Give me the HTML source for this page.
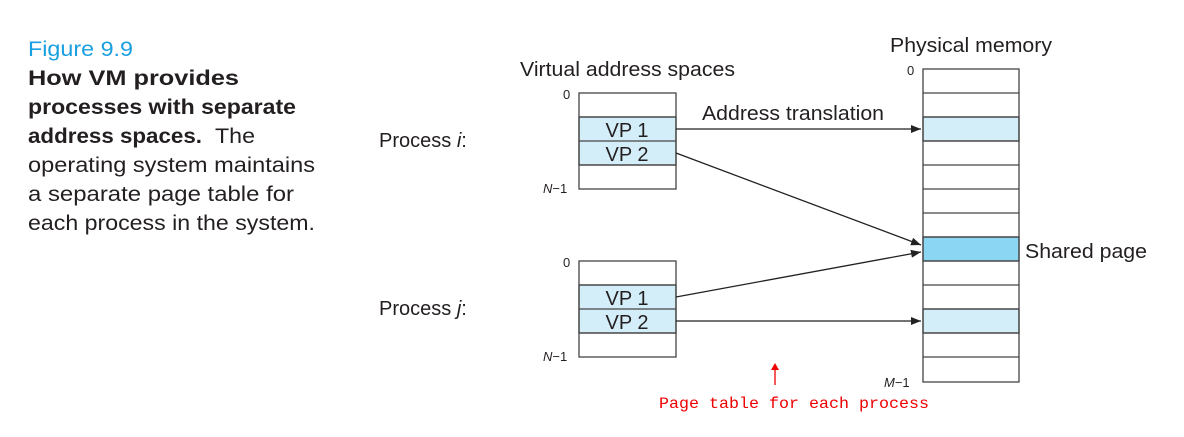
<!DOCTYPE html>
<html><head><meta charset="utf-8"><style>
html,body{margin:0;padding:0;background:#fff}
svg{display:block}
</style></head><body>
<svg width="1184" height="437" viewBox="0 0 1184 437" xmlns="http://www.w3.org/2000/svg" font-family="Liberation Sans, sans-serif">
<defs><marker id="a" markerWidth="10" markerHeight="8" refX="10" refY="4" orient="auto" markerUnits="userSpaceOnUse"><path d="M0,0 L10,4 L0,8 z" fill="#222"/></marker></defs>
<g font-size="21" fill="#231f20">
<text x="28" y="56" fill="#1a9fe0" textLength="105" lengthAdjust="spacingAndGlyphs">Figure 9.9</text>
<text x="28" y="85" font-weight="bold" textLength="211" lengthAdjust="spacingAndGlyphs">How VM provides</text>
<text x="28" y="114" font-weight="bold" textLength="268" lengthAdjust="spacingAndGlyphs">processes with separate</text>
<text x="28" y="143" font-weight="bold" textLength="174" lengthAdjust="spacingAndGlyphs">address spaces.</text>
<text x="215" y="143" textLength="40" lengthAdjust="spacingAndGlyphs">The</text>
<text x="28" y="172" textLength="287" lengthAdjust="spacingAndGlyphs">operating system maintains</text>
<text x="28" y="201" textLength="266" lengthAdjust="spacingAndGlyphs">a separate page table for</text>
<text x="28" y="230" textLength="287" lengthAdjust="spacingAndGlyphs">each process in the system.</text>
</g>
<g font-size="20" fill="#231f20">
<text x="520" y="76" textLength="215" lengthAdjust="spacingAndGlyphs">Virtual address spaces</text>
<text x="890" y="52" textLength="162" lengthAdjust="spacingAndGlyphs">Physical memory</text>
<text x="379" y="147">Process <tspan font-style="italic">i</tspan>:</text>
<text x="379" y="315">Process <tspan font-style="italic">j</tspan>:</text>
<text x="702" y="120" textLength="182" lengthAdjust="spacingAndGlyphs">Address translation</text>
<text x="1025" y="258" textLength="122" lengthAdjust="spacingAndGlyphs">Shared page</text>
</g>
<g font-size="13" fill="#231f20">
<text x="563" y="99">0</text>
<text x="543" y="193"><tspan font-style="italic">N</tspan>−1</text>
<text x="563" y="267">0</text>
<text x="543" y="361"><tspan font-style="italic">N</tspan>−1</text>
<text x="907" y="75">0</text>
<text x="884" y="387"><tspan font-style="italic">M</tspan>−1</text>
</g>
<g stroke="#444" stroke-width="1.3">
<rect x="579" y="117" width="97" height="48" fill="#d4eef9"/>
<rect x="579" y="93" width="97" height="96" fill="none"/>
<line x1="579" y1="117" x2="676" y2="117"/><line x1="579" y1="141" x2="676" y2="141"/><line x1="579" y1="165" x2="676" y2="165"/>
<rect x="579" y="285" width="97" height="48" fill="#d4eef9"/>
<rect x="579" y="261" width="97" height="96" fill="none"/>
<line x1="579" y1="285" x2="676" y2="285"/><line x1="579" y1="309" x2="676" y2="309"/><line x1="579" y1="333" x2="676" y2="333"/>
<rect x="923" y="117" width="96" height="24" fill="#d4eef9"/>
<rect x="923" y="237" width="96" height="24" fill="#8ad6f3"/>
<rect x="923" y="309" width="96" height="24" fill="#d4eef9"/>
<rect x="923" y="69" width="96" height="313" fill="none"/>
<g>
<line x1="923" y1="93" x2="1019" y2="93"/><line x1="923" y1="117" x2="1019" y2="117"/><line x1="923" y1="141" x2="1019" y2="141"/><line x1="923" y1="165" x2="1019" y2="165"/><line x1="923" y1="189" x2="1019" y2="189"/><line x1="923" y1="213" x2="1019" y2="213"/><line x1="923" y1="237" x2="1019" y2="237"/><line x1="923" y1="261" x2="1019" y2="261"/><line x1="923" y1="285" x2="1019" y2="285"/><line x1="923" y1="309" x2="1019" y2="309"/><line x1="923" y1="333" x2="1019" y2="333"/><line x1="923" y1="357" x2="1019" y2="357"/>
</g>
</g>
<g font-size="20" fill="#231f20" text-anchor="middle">
<text x="627" y="137">VP 1</text><text x="627" y="161">VP 2</text>
<text x="627" y="305">VP 1</text><text x="627" y="329">VP 2</text>
</g>
<g stroke="#222" stroke-width="1.3" marker-end="url(#a)">
<line x1="676" y1="129" x2="921" y2="129"/>
<line x1="676" y1="153" x2="921" y2="245"/>
<line x1="676" y1="297" x2="921" y2="252"/>
<line x1="676" y1="321" x2="921" y2="321"/>
</g>
<line x1="775" y1="385" x2="775" y2="366" stroke="#e00" stroke-width="1.3"/>
<path d="M771,370 L775,363 L779,370 z" fill="#e00"/>
<text x="659" y="408" font-family="Liberation Mono, monospace" font-size="16" fill="#e00" textLength="270" lengthAdjust="spacingAndGlyphs">Page table for each process</text>
</svg>
</body></html>
